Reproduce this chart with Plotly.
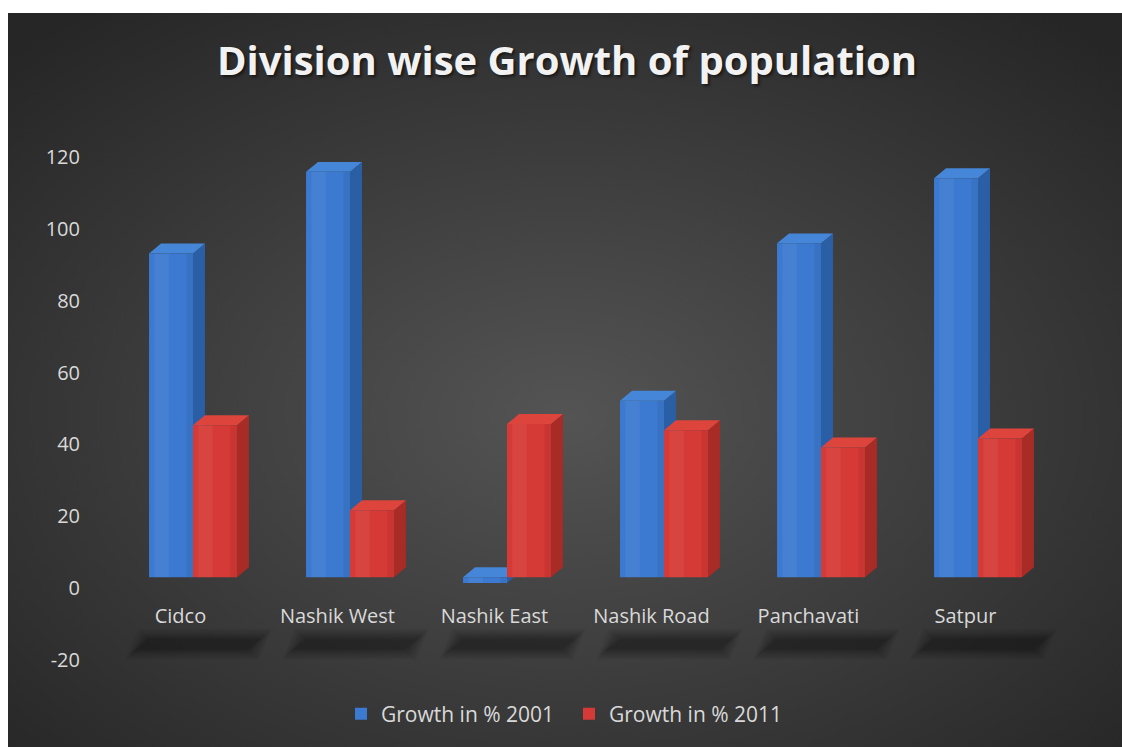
import base64
import plotly.graph_objects as go

# ---- data -------------------------------------------------------------
divisions = ["Cidco", "Nashik West", "Nashik East", "Nashik Road", "Panchavati", "Satpur"]
growth_2001 = [90.1, 112.8, -1.6, 49.1, 92.9, 111.0]
growth_2011 = [42.3, 18.6, 42.6, 40.9, 36.1, 38.6]
series_names = ["Growth in % 2001", "Growth in % 2011"]
y_ticks = [-20, 0, 20, 40, 60, 80, 100, 120]
chart_title = "Division wise Growth of population"

# ---- styling ----------------------------------------------------------
W, H = 1122, 747
FONT = "Open Sans"
TEXT = "#d9d9d9"
FACE = {  # front, top, side
    0: ("#3b7ad0", "#4586d8", "#2a5ea5"),
    1: ("#d63a36", "#dd453c", "#a82b26"),
}
BAR_W = 0.28          # width of one column (category units)
DEPTH_X = 0.0764      # receding depth of a column, x units
DEPTH_Y = 2.78        # receding depth of a column, y units
FLOOR_SHIFT = 3.06    # columns sit behind the front edge of the floor

# pixel layout of the plotting area
X_LEFT_PX, X_RIGHT_PX = 81, 1100
Y_TOP_PX, Y_BOT_PX = 157, 660
X0_PX, X_STEP_PX = 193, 157

x_range = [(X_LEFT_PX - X0_PX) / X_STEP_PX, (X_RIGHT_PX - X0_PX) / X_STEP_PX]
y_range = [y_ticks[0], y_ticks[-1]]
y_dom = [(H - Y_BOT_PX) / H, (H - Y_TOP_PX) / H]

# ---- background: dark radial gradient ---------------------------------
bg_w, bg_h = W - 8, H - 13
svg = f"""<svg xmlns='http://www.w3.org/2000/svg' width='{bg_w}' height='{bg_h}' viewBox='0 0 {bg_w} {bg_h}' preserveAspectRatio='none'>
<defs><radialGradient id='g' cx='50%' cy='55%' r='70%'>
<stop offset='0' stop-color='#545454'/><stop offset='1' stop-color='#262626'/>
</radialGradient></defs>
<rect width='{bg_w}' height='{bg_h}' fill='url(#g)'/></svg>"""
bg_src = "data:image/svg+xml;base64," + base64.b64encode(svg.encode()).decode()

fig = go.Figure()

# front faces of the columns
for s, vals in enumerate([growth_2001, growth_2011]):
    fig.add_trace(go.Bar(
        x=list(range(len(divisions))),
        y=vals,
        name=series_names[s],
        width=BAR_W,
        offset=-BAR_W if s == 0 else 0,
        marker=dict(color=FACE[s][0], line=dict(width=0)),
        yaxis="y2",
        hoverinfo="skip",
    ))


def poly(pts):
    return "M " + " L ".join(f"{px:.4f},{py:.3f}" for px, py in pts) + " Z"


shapes = []

# soft floor shadows under each category label (stacked translucent layers)
for i in range(len(divisions)):
    for grow in [0.06, 0.045, 0.032, 0.02, 0.009, 0.0, -0.01]:
        gy = grow * 40
        pts = [(-0.37 - grow, -17.4 - gy), (0.36 + grow, -17.4 - gy),
               (0.44 + grow, -13.8 + gy), (-0.29 - grow, -13.8 + gy)]
        shapes.append(dict(type="path", path=poly([(i + px, py) for px, py in pts]),
                           xref="x", yref="y", fillcolor="rgba(0,0,0,0.055)",
                           line=dict(width=0), layer="below"))

# side and top faces of the columns
for s, vals in enumerate([growth_2001, growth_2011]):
    for i, v in enumerate(vals):
        x0 = i + (-BAR_W if s == 0 else 0)
        x1 = x0 + BAR_W
        top, bot = max(v, 0), min(v, 0)
        side = [(x1, bot), (x1, top), (x1 + DEPTH_X, top + DEPTH_Y), (x1 + DEPTH_X, bot + DEPTH_Y)]
        lid = [(x0, top), (x1, top), (x1 + DEPTH_X, top + DEPTH_Y), (x0 + DEPTH_X, top + DEPTH_Y)]
        for pts, col in [(side, FACE[s][2]), (lid, FACE[s][1])]:
            shapes.append(dict(type="path", path=poly(pts), xref="x", yref="y2",
                               fillcolor=col, line=dict(width=0), layer="below"))

# subtle sheen down the front of each column
for s, vals in enumerate([growth_2001, growth_2011]):
    for i, v in enumerate(vals):
        x0 = i + (-BAR_W if s == 0 else 0)
        top, bot = max(v, 0), min(v, 0)
        shapes.append(dict(type="rect", xref="x", yref="y2",
                           x0=x0 + BAR_W * 0.12, x1=x0 + BAR_W * 0.45, y0=bot, y1=top,
                           fillcolor="rgba(255,255,255,0.05)", line=dict(width=0),
                           layer="above"))
        shapes.append(dict(type="rect", xref="x", yref="y2",
                           x0=x0 + BAR_W * 0.85, x1=x0 + BAR_W, y0=bot, y1=top,
                           fillcolor="rgba(0,0,0,0.06)", line=dict(width=0),
                           layer="above"))

fig.update_layout(
    width=W, height=H,
    margin=dict(l=0, r=0, t=0, b=0, autoexpand=False),
    paper_bgcolor="white",
    plot_bgcolor="rgba(0,0,0,0)",
    barmode="overlay",
    shapes=shapes,
    images=[dict(source=bg_src, xref="paper", yref="paper",
                 x=8 / W, y=1 - 13 / H, sizex=bg_w / W, sizey=bg_h / H,
                 xanchor="left", yanchor="top", sizing="stretch", layer="below")],
    title=dict(text=chart_title, x=567 / W, xanchor="center",
               y=(H - 61) / H, yanchor="middle",
               font=dict(family=FONT, size=40, color="#f2f2f2", weight="bold",
                         shadow="2px 2px 3px rgba(0,0,0,0.55)")),
    xaxis=dict(domain=[X_LEFT_PX / W, X_RIGHT_PX / W], range=x_range,
               anchor="free", position=(H - 602) / H, automargin=False,
               tickmode="array",
               tickvals=[i - 0.08 for i in range(len(divisions))],
               ticktext=divisions,
               tickfont=dict(family=FONT, size=20, color=TEXT),
               showgrid=False, zeroline=False, showline=False, ticks=""),
    yaxis=dict(domain=y_dom, range=y_range, tickmode="array", tickvals=y_ticks,
               ticktext=[str(t) for t in y_ticks], automargin=False,
               tickfont=dict(family=FONT, size=20, color=TEXT),
               showgrid=False, zeroline=False, showline=False, ticks=""),
    yaxis2=dict(domain=y_dom, overlaying="y",
                range=[y_range[0] - FLOOR_SHIFT, y_range[1] - FLOOR_SHIFT],
                visible=False, automargin=False),
    legend=dict(orientation="h", x=569 / W, xanchor="center",
                y=(H - 714) / H, yanchor="middle",
                font=dict(family=FONT, size=21, color=TEXT),
                bgcolor="rgba(0,0,0,0)", itemwidth=30,
                entrywidth=183, entrywidthmode="pixels"),
    showlegend=True,
)

fig.write_html("out.html")
